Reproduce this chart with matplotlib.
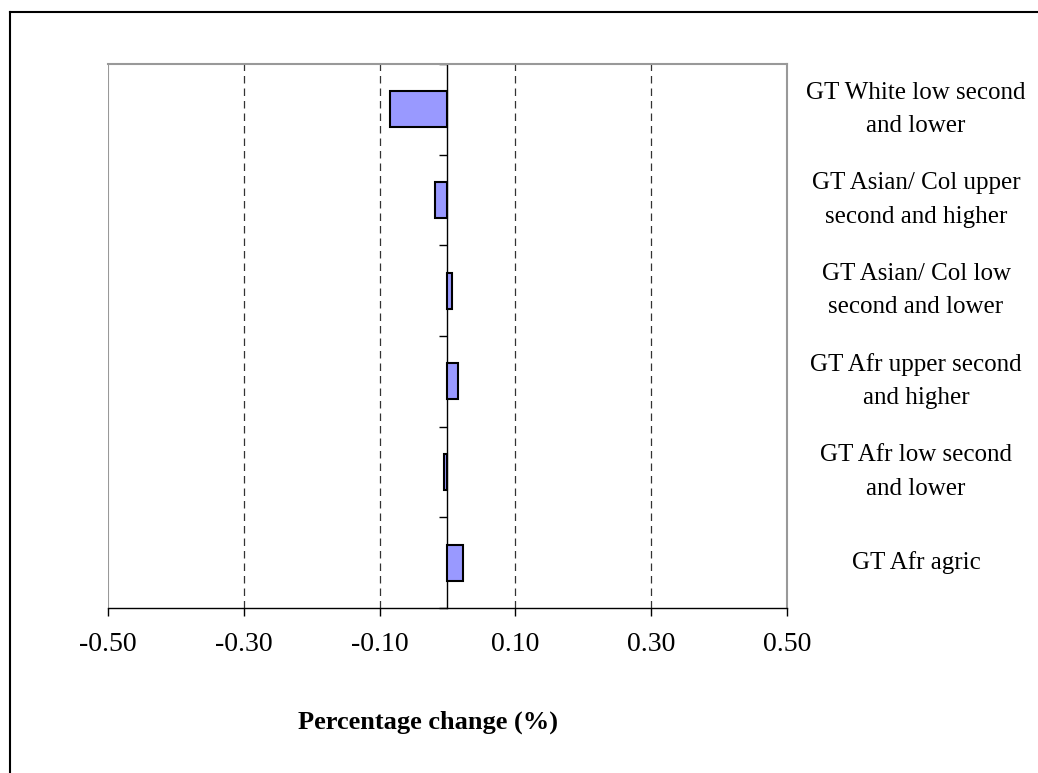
import numpy as np
import matplotlib.pyplot as plt
from matplotlib.lines import Line2D

categories = ['GT White low second\nand lower',
              'GT Asian/ Col upper\nsecond and higher',
              'GT Asian/ Col low\nsecond and lower',
              'GT Afr upper second\nand higher',
              'GT Afr low second\nand lower',
              'GT Afr agric']
values = [-0.084, -0.019, 0.006, 0.016, -0.005, 0.023]
xticks = [-0.5, -0.3, -0.1, 0.1, 0.3, 0.5]

plt.rcParams['font.family'] = ['Liberation Serif', 'DejaVu Serif']

W, H = 1038, 773
fig = plt.figure(figsize=(W / 100, H / 100), dpi=100)
ax = fig.add_axes([108 / W, (H - 608) / H, (787 - 108) / W, (608 - 64) / H])

# outer chart border (left and top only visible)
fig.add_artist(Line2D([10 / W, 10 / W], [0, 1 - 12 / H], transform=fig.transFigure, color='black', lw=1.5))
fig.add_artist(Line2D([10 / W, 1], [1 - 12 / H, 1 - 12 / H], transform=fig.transFigure, color='black', lw=1.5))

y = np.arange(len(categories))
ax.barh(y, values, height=0.4, color='#9999FF', edgecolor='black', linewidth=1.5, zorder=3)

ax.set_xlim(-0.5, 0.5)
ax.set_ylim(len(categories) - 0.5, -0.5)

for xv in xticks[1:-1]:
    ax.axvline(xv, color='#333333', lw=0.9, ls=(0, (6, 4)), zorder=1)
ax.axvline(-0.5, color='#999999', lw=1.5, zorder=2)

ax.spines['left'].set_position(('data', 0))
ax.spines['left'].set_color('black')
ax.spines['left'].set_linewidth(1.0)
for s in ['top', 'right']:
    ax.spines[s].set_color('#999999')
    ax.spines[s].set_linewidth(1.5)
ax.spines['bottom'].set_color('black')
ax.spines['bottom'].set_linewidth(1.0)

ax.set_yticks(np.arange(-0.5, len(categories), 1.0))
ax.set_yticklabels([])
ax.tick_params(axis='y', direction='out', length=6, width=1, color='black')

ax.set_xticks(xticks)
ax.set_xticklabels([f'{v:.2f}' for v in xticks], fontsize=20)
ax.tick_params(axis='x', direction='out', length=6, width=1, pad=11)

for i, lab in enumerate(categories):
    ax.text(1.19, i, lab, transform=ax.get_yaxis_transform(), ha='center', va='center',
            fontsize=18, linespacing=1.65)

fig.text(428 / W, 1 - 722 / H, 'Percentage change (%)', ha='center', va='center',
         fontsize=19, fontweight='bold')

fig.savefig('out.png', dpi=100)
